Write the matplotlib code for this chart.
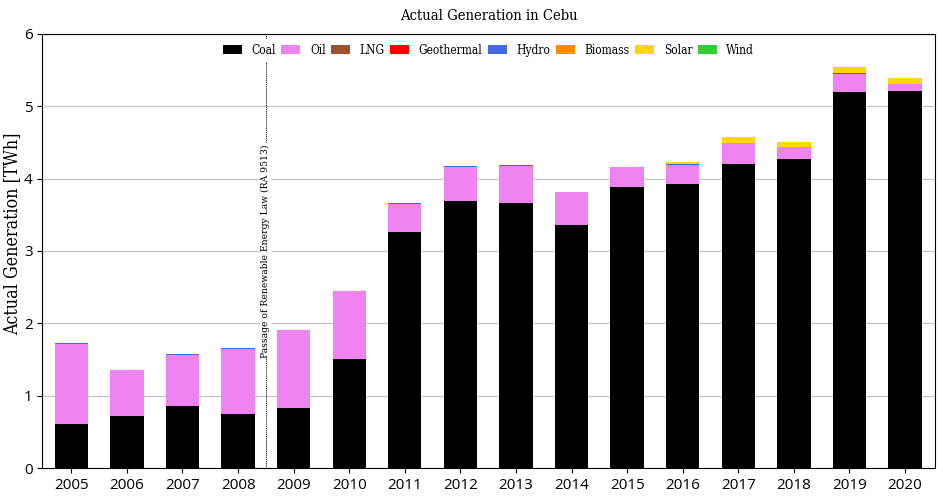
import numpy as np
import matplotlib
matplotlib.use('Agg')
import matplotlib.pyplot as plt

years = [str(y) for y in range(2005, 2021)]
sources = ['Coal', 'Oil', 'LNG', 'Geothermal', 'Hydro', 'Biomass', 'Solar', 'Wind']
colors = ['black', 'violet', 'sienna', 'red', 'royalblue', 'darkorange', 'gold', 'limegreen']

# TWh per year
coal = [0.61, 0.72, 0.86, 0.75, 0.83, 1.51, 3.26, 3.69, 3.66, 3.36, 3.885, 3.93, 4.20, 4.27, 5.20, 5.21]
oil = [1.10, 0.64, 0.70, 0.895, 1.08, 0.933, 0.395, 0.47, 0.52, 0.455, 0.275, 0.255, 0.29, 0.16, 0.25, 0.10]
lng = [0, 0, 0, 0, 0, 0, 0, 0, 0.012, 0, 0, 0.005, 0, 0, 0.004, 0]
geothermal = [0] * 16
hydro = [0.012, 0, 0.015, 0.015, 0, 0.01, 0.008, 0.015, 0, 0, 0, 0.008, 0, 0, 0.008, 0]
biomass = [0] * 16
solar = [0, 0, 0, 0, 0, 0, 0, 0, 0, 0, 0, 0.025, 0.086, 0.077, 0.085, 0.08]
wind = [0] * 16

series = [coal, oil, lng, geothermal, hydro, biomass, solar, wind]

serif = ['DejaVu Serif']
fig, ax = plt.subplots(figsize=(9.43, 4.98), dpi=100)
fig.subplots_adjust(left=0.045, right=0.991, top=0.932, bottom=0.06)

x = np.arange(len(years))
bottom = np.zeros(len(years))
for name, vals, c in zip(sources, series, colors):
    ax.bar(x, vals, width=0.6, bottom=bottom, color=c, label=name, zorder=3)
    bottom += np.array(vals)

ax.set_xlim(-0.52, 15.53)
ax.set_ylim(0, 6)
ax.set_xticks(x)
ax.set_xticklabels(years)
ax.tick_params(labelsize=11)
for lab in ax.get_xticklabels() + ax.get_yticklabels():
    lab.set_family('Open Sans')
ax.yaxis.grid(True, color='#c4c4c4', lw=0.9, zorder=0)

ax.axvline(3.5, color='black', ls=(0, (1.5, 1)), lw=0.6, zorder=2)
ax.text(3.5, 3.0, 'Passage of Renewable Energy Law (RA 9513)', rotation=90,
        ha='center', va='center', fontsize=7.4, family=serif, fontstretch='condensed',
        bbox=dict(facecolor='white', edgecolor='none', pad=1), zorder=4)

ax.set_ylabel('Actual Generation [TWh]', fontsize=12.8, family=serif, fontstretch='condensed')
ax.yaxis.set_label_coords(-0.0235, 0.54)
ax.set_title('Actual Generation in Cebu', fontsize=10.6, family=serif, fontstretch='condensed', pad=10)

leg = ax.legend(loc='upper center', ncol=8,
                prop={'family': serif, 'size': 8.6, 'stretch': 'condensed'},
                frameon=True, edgecolor='none', framealpha=1, borderaxespad=0.45,
                handlelength=1.6, handleheight=0.75, handletextpad=0.8, columnspacing=0.45,
                bbox_to_anchor=(0.5, 1.0))
leg.set_zorder(5)

plt.savefig('out.png')
